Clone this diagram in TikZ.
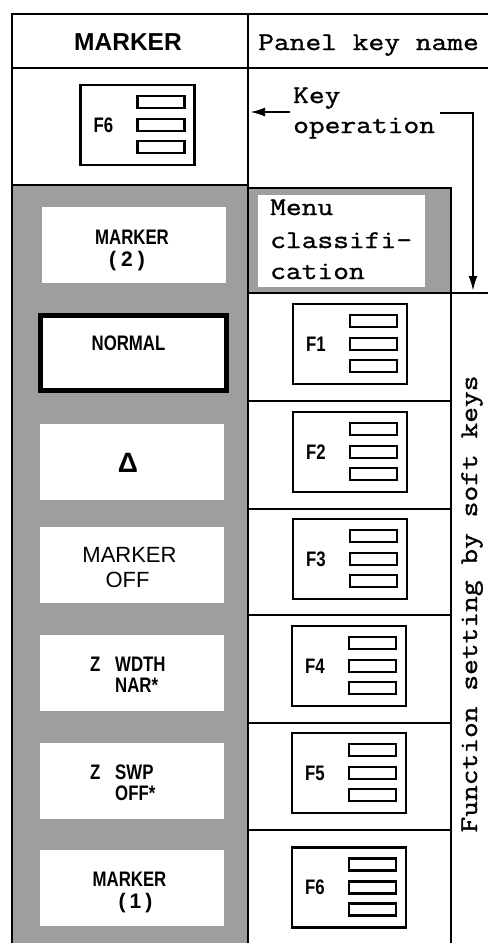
\documentclass[tikz,border=0pt]{standalone}
\usepackage{fontspec}
\setmainfont{Liberation Sans}
\newfontfamily\monof[FakeStretch=1.2,FakeBold=1.2]{Latin Modern Mono}
\newfontfamily\condf[FakeStretch=0.8]{Liberation Sans}
\usetikzlibrary{arrows.meta}
\tikzset{
  frame/.style={line width=2.5pt},
  shadefill/.style={fill=black!38},
  whitebox/.style={fill=white, draw=none, minimum width=184pt, minimum height=76pt, inner sep=0pt},
  keybox/.style={draw, line width=2.4pt, fill=white, minimum width=114pt, minimum height=80pt, inner sep=0pt},
  keybar/.style={draw, line width=2.4pt, minimum width=47pt, minimum height=12pt, inner sep=0pt},
  monotext/.style={font=\monof\fontsize{25.5}{31}\selectfont, inner sep=0pt},
  menutext/.style={font=\condf\bfseries\fontsize{21}{21}\selectfont, inner sep=0pt},
  plaintext/.style={font=\fontsize{22}{22}\selectfont, inner sep=0pt},
  widebold/.style={font=\bfseries\fontsize{21}{21}\selectfont, inner sep=0pt},
  keylabel/.style={font=\condf\bfseries\fontsize{21}{21}\selectfont, inner sep=0pt},
  arr/.style={line width=2.2pt, -{Latex[length=15pt,width=9pt]}},
  pics/softkey/.style={code={
    \node[keybox] (-box) at (0,0) {};
    \node[keybar] (-b1) at (23.5,-23) {};
    \node[keybar] (-b2) at (23.5,0) {};
    \node[keybar] (-b3) at (23.5,22) {};
    \node[keylabel] (-lbl) at (-34,0) {#1};
  }}
}
\begin{document}
\begin{tikzpicture}[x=1pt,y=-1pt]
\useasboundingbox (0,0) rectangle (488,943);
% shaded areas
\fill[shadefill] (12,185) rectangle (248,943);
\fill[shadefill] (248,188) rectangle (451,293);
\node[whitebox, minimum width=167pt, minimum height=92pt] (menubox) at (341.5,241) {};
% frame lines
\draw[frame] (488,14) -- (12,14) -- (12,943);
\draw[frame] (12,68) -- (488,68);
\draw[frame] (248,14) -- (248,943);
\draw[frame] (12,185) -- (248,185);
\draw[frame] (248,188) -- (451,188) -- (451,943);
\draw[frame] (248,293) -- (488,293);
\foreach \yy in {401,509,615,723,830} {\draw[frame] (248,\yy) -- (451,\yy);}
% header
\node[font=\bfseries\fontsize{24.5}{24.5}\selectfont, inner sep=0pt, anchor=base] (hmarker) at (128,50) {MARKER};
\node[monotext, anchor=base west] (hpanel) at (258,50) {Panel key name};
% key operation
\pic (topkey) at (137.5,125) {softkey=F6};
\node[monotext, anchor=base west] (keyop1) at (293,103) {Key};
\node[monotext, anchor=base west] (keyop2) at (293,133) {operation};
\coordinate (ka) at (290,112);
\coordinate (kb) at (250,112);
\draw[arr] (ka) -- (kb);
\coordinate (da) at (440,113);
\coordinate (db) at (473,291);
\draw[arr] (da) -| (db);
% menu classification
\node[monotext, anchor=base west] (mc1) at (270,215) {Menu};
\node[monotext, anchor=base west] (mc2) at (270,248) {classifi-};
\node[monotext, anchor=base west] (mc3) at (270,279) {cation};
% left column boxes
\node[whitebox] (bm2) at (133.5,245) {};
\node[menutext, anchor=base] (bm2a) at (132,244) {MARKER};
\node[widebold, anchor=base] (bm2b) at (127,266) {(\hspace{5pt}2\hspace{5pt})};
\node[draw, line width=5pt, fill=white, minimum width=186pt, minimum height=75pt, inner sep=0pt] (bnorm) at (133,352.5) {};
\node[menutext, anchor=base] (bnorma) at (128.5,350) {NORMAL};
\node[whitebox] (bdelta) at (132,461.5) {};
\node[font=\bfseries\fontsize{28}{28}\selectfont, inner sep=0pt, anchor=base] (bdeltaa) at (128,472) {Δ};
\node[whitebox] (boff) at (132,565) {};
\node[plaintext, anchor=base] (boffa) at (129.5,562) {MARKER};
\node[plaintext, anchor=base] (boffb) at (127.5,587) {OFF};
\node[whitebox] (bzw) at (132,672.5) {};
\node[menutext, anchor=base west] (bzwa) at (90,671) {Z};
\node[menutext, anchor=base west] (bzwb) at (115,671) {WDTH};
\node[menutext, anchor=base west] (bzwc) at (115,692) {NAR*};
\node[whitebox] (bzs) at (132,780.5) {};
\node[menutext, anchor=base west] (bzsa) at (90,779) {Z};
\node[menutext, anchor=base west] (bzsb) at (115,779) {SWP};
\node[menutext, anchor=base west] (bzsc) at (115,800) {OFF*};
\node[whitebox] (bm1) at (132,888) {};
\node[menutext, anchor=base] (bm1a) at (129.5,886) {MARKER};
\node[widebold, anchor=base] (bm1b) at (135.5,908) {(\hspace{4pt}1\hspace{4pt})};
% soft keys
\pic (k1) at (350,344) {softkey=F1};
\pic (k2) at (350,452) {softkey=F2};
\pic (k3) at (350,559) {softkey=F3};
\pic (k4) at (349,666) {softkey=F4};
\pic (k5) at (349,773) {softkey=F5};
\pic (k6) at (349,887.5) {softkey=F6};
% vertical label
\node[monotext, rotate=90, anchor=base] (fsk) at (477,604) {Function setting by soft keys};
\end{tikzpicture}
\end{document}
